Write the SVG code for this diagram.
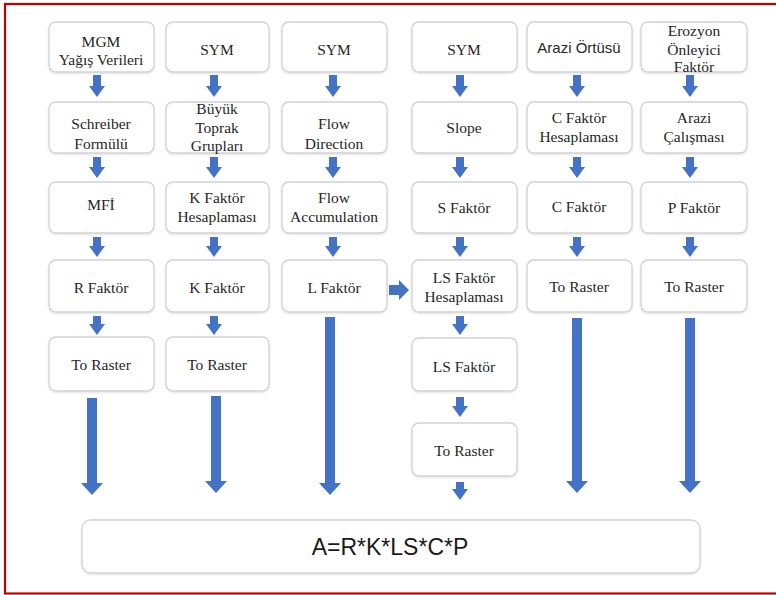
<svg xmlns="http://www.w3.org/2000/svg" width="776" height="595" viewBox="0 0 776 595">
<style>
.box{fill:#ffffff;stroke:#d2d2d2;stroke-width:1.3}
.t{font-family:"Liberation Serif","Times New Roman",serif;font-size:15.5px;fill:#262626;text-anchor:middle}
.s{font-family:"Liberation Sans",Arial,sans-serif;font-size:15px;fill:#262626;text-anchor:middle}
.f{font-family:"Liberation Sans",Arial,sans-serif;font-size:23px;fill:#1a1a1a;text-anchor:middle}
.ar{fill:#4472C4}
</style>
<defs>
<filter id="sh" x="-10%" y="-10%" width="120%" height="130%">
<feDropShadow dx="0" dy="1" stdDeviation="1" flood-color="#000" flood-opacity="0.12"/>
</filter>
</defs>
<rect width="776" height="595" fill="#ffffff"/>
<rect x="5" y="4" width="800" height="589.5" fill="none" stroke="#c00000" stroke-width="2.2"/>

<g id="c1r1"><rect class="box" filter="url(#sh)" x="49" y="22" width="105" height="50" rx="7"/><text class="t" x="101" y="47">MGM</text><text class="t" x="101" y="65">Yağış Verileri</text></g>
<g id="c1r2"><rect class="box" filter="url(#sh)" x="49" y="102" width="105" height="51" rx="7"/><text class="t" x="101" y="129">Schreiber</text><text class="t" x="101" y="149">Formülü</text></g>
<g id="c1r3"><rect class="box" filter="url(#sh)" x="49" y="182" width="105" height="51" rx="7"/><text class="t" x="101" y="210">MFİ</text></g>
<g id="c1r4"><rect class="box" filter="url(#sh)" x="49" y="260" width="105" height="52" rx="7"/><text class="t" x="101" y="293">R Faktör</text></g>
<g id="c1r5"><rect class="box" filter="url(#sh)" x="49" y="337" width="105" height="54" rx="7"/><text class="t" x="101" y="370">To Raster</text></g>

<g id="c2r1"><rect class="box" filter="url(#sh)" x="166" y="22" width="103" height="50" rx="7"/><text class="t" x="217" y="55">SYM</text></g>
<g id="c2r2"><rect class="box" filter="url(#sh)" x="166" y="102" width="103" height="51" rx="7"/><text class="t" x="217" y="114">Büyük</text><text class="t" x="217" y="133">Toprak</text><text class="t" x="217" y="151">Grupları</text></g>
<g id="c2r3"><rect class="box" filter="url(#sh)" x="166" y="182" width="103" height="51" rx="7"/><text class="t" x="217" y="203">K Faktör</text><text class="t" x="217" y="222">Hesaplaması</text></g>
<g id="c2r4"><rect class="box" filter="url(#sh)" x="166" y="260" width="103" height="52" rx="7"/><text class="t" x="217" y="293">K Faktör</text></g>
<g id="c2r5"><rect class="box" filter="url(#sh)" x="166" y="337" width="103" height="54" rx="7"/><text class="t" x="217" y="370">To Raster</text></g>

<g id="c3r1"><rect class="box" filter="url(#sh)" x="282" y="22" width="105" height="50" rx="7"/><text class="t" x="334" y="55">SYM</text></g>
<g id="c3r2"><rect class="box" filter="url(#sh)" x="282" y="102" width="105" height="51" rx="7"/><text class="t" x="334" y="129">Flow</text><text class="t" x="334" y="149">Direction</text></g>
<g id="c3r3"><rect class="box" filter="url(#sh)" x="282" y="182" width="105" height="51" rx="7"/><text class="t" x="334" y="203">Flow</text><text class="t" x="334" y="222">Accumulation</text></g>
<g id="c3r4"><rect class="box" filter="url(#sh)" x="282" y="260" width="105" height="52" rx="7"/><text class="t" x="334" y="293">L Faktör</text></g>

<g id="c4r1"><rect class="box" filter="url(#sh)" x="412" y="22" width="105" height="50" rx="7"/><text class="t" x="464" y="55">SYM</text></g>
<g id="c4r2"><rect class="box" filter="url(#sh)" x="412" y="102" width="105" height="51" rx="7"/><text class="t" x="464" y="133">Slope</text></g>
<g id="c4r3"><rect class="box" filter="url(#sh)" x="412" y="182" width="105" height="51" rx="7"/><text class="t" x="464" y="213">S Faktör</text></g>
<g id="c4r4"><rect class="box" filter="url(#sh)" x="412" y="260" width="105" height="52" rx="7"/><text class="t" x="464" y="283">LS Faktör</text><text class="t" x="464" y="302">Hesaplaması</text></g>
<g id="c4r5"><rect class="box" filter="url(#sh)" x="412" y="338" width="105" height="53" rx="7"/><text class="t" x="464" y="372">LS Faktör</text></g>
<g id="c4r6"><rect class="box" filter="url(#sh)" x="412" y="423" width="105" height="53" rx="7"/><text class="t" x="464" y="456">To Raster</text></g>

<g id="c5r1"><rect class="box" filter="url(#sh)" x="527" y="22" width="105" height="50" rx="7"/><text class="s" x="579" y="53">Arazi Örtüsü</text></g>
<g id="c5r2"><rect class="box" filter="url(#sh)" x="527" y="102" width="105" height="51" rx="7"/><text class="t" x="579" y="123">C Faktör</text><text class="t" x="579" y="142">Hesaplaması</text></g>
<g id="c5r3"><rect class="box" filter="url(#sh)" x="527" y="182" width="105" height="51" rx="7"/><text class="t" x="579" y="212">C Faktör</text></g>
<g id="c5r4"><rect class="box" filter="url(#sh)" x="527" y="260" width="105" height="52" rx="7"/><text class="t" x="579" y="292">To Raster</text></g>

<g id="c6r1"><rect class="box" filter="url(#sh)" x="641" y="22" width="106" height="50" rx="7"/><text class="t" x="694" y="36">Erozyon</text><text class="t" x="694" y="55">Önleyici</text><text class="t" x="694" y="72">Faktör</text></g>
<g id="c6r2"><rect class="box" filter="url(#sh)" x="641" y="102" width="106" height="51" rx="7"/><text class="t" x="694" y="123">Arazi</text><text class="t" x="694" y="142">Çalışması</text></g>
<g id="c6r3"><rect class="box" filter="url(#sh)" x="641" y="182" width="106" height="51" rx="7"/><text class="t" x="694" y="213">P Faktör</text></g>
<g id="c6r4"><rect class="box" filter="url(#sh)" x="641" y="260" width="106" height="52" rx="7"/><text class="t" x="694" y="292">To Raster</text></g>

<g id="result"><rect class="box" filter="url(#sh)" x="82" y="520" width="618" height="53" rx="9"/><text class="f" x="390" y="555">A=R*K*LS*C*P</text></g>

<g id="connectors" class="ar">
<!-- small arrows: shaft 8 wide, head 16 wide, 10 long -->
<path d="M93,75 h8 v11 h4 l-8,11 l-8,-11 h4 z"/>
<path d="M93,157 h8 v10 h4 l-8,11 l-8,-11 h4 z"/>
<path d="M93,237 h8 v9 h4 l-8,11 l-8,-11 h4 z"/>
<path d="M93,316 h8 v8 h4 l-8,11 l-8,-11 h4 z"/>

<path d="M210,75 h8 v11 h4 l-8,11 l-8,-11 h4 z"/>
<path d="M210,157 h8 v10 h4 l-8,11 l-8,-11 h4 z"/>
<path d="M210,237 h8 v9 h4 l-8,11 l-8,-11 h4 z"/>
<path d="M210,316 h8 v8 h4 l-8,11 l-8,-11 h4 z"/>

<path d="M329,75 h8 v11 h4 l-8,11 l-8,-11 h4 z"/>
<path d="M329,157 h8 v10 h4 l-8,11 l-8,-11 h4 z"/>
<path d="M329,237 h8 v9 h4 l-8,11 l-8,-11 h4 z"/>

<path d="M456,75 h8 v11 h4 l-8,11 l-8,-11 h4 z"/>
<path d="M456,157 h8 v10 h4 l-8,11 l-8,-11 h4 z"/>
<path d="M456,237 h8 v9 h4 l-8,11 l-8,-11 h4 z"/>
<path d="M456,316 h8 v8 h4 l-8,11 l-8,-11 h4 z"/>
<path d="M456,397 h8 v9 h4 l-8,11 l-8,-11 h4 z"/>
<path d="M456,482 h8 v7 h4 l-8,11 l-8,-11 h4 z"/>

<path d="M573,75 h8 v11 h4 l-8,11 l-8,-11 h4 z"/>
<path d="M573,157 h8 v10 h4 l-8,11 l-8,-11 h4 z"/>
<path d="M573,237 h8 v9 h4 l-8,11 l-8,-11 h4 z"/>

<path d="M686,75 h8 v11 h4 l-8,11 l-8,-11 h4 z"/>
<path d="M686,157 h8 v10 h4 l-8,11 l-8,-11 h4 z"/>
<path d="M686,237 h8 v9 h4 l-8,11 l-8,-11 h4 z"/>

<!-- long arrows -->
<path d="M87,398 h10 v85 h6 l-11,12 l-11,-12 h6 z"/>
<path d="M211,396 h10 v85 h6 l-11,12 l-11,-12 h6 z"/>
<path d="M325,317 h10 v166 h6 l-11,12 l-11,-12 h6 z"/>
<path d="M572,318 h10 v163 h6 l-11,12 l-11,-12 h6 z"/>
<path d="M685,318 h10 v163 h6 l-11,12 l-11,-12 h6 z"/>

<!-- right arrow L -> LS -->
<path d="M389,285 h10 v-5 l10,10 l-10,10 v-5 h-10 z"/>
</g>
</svg>
